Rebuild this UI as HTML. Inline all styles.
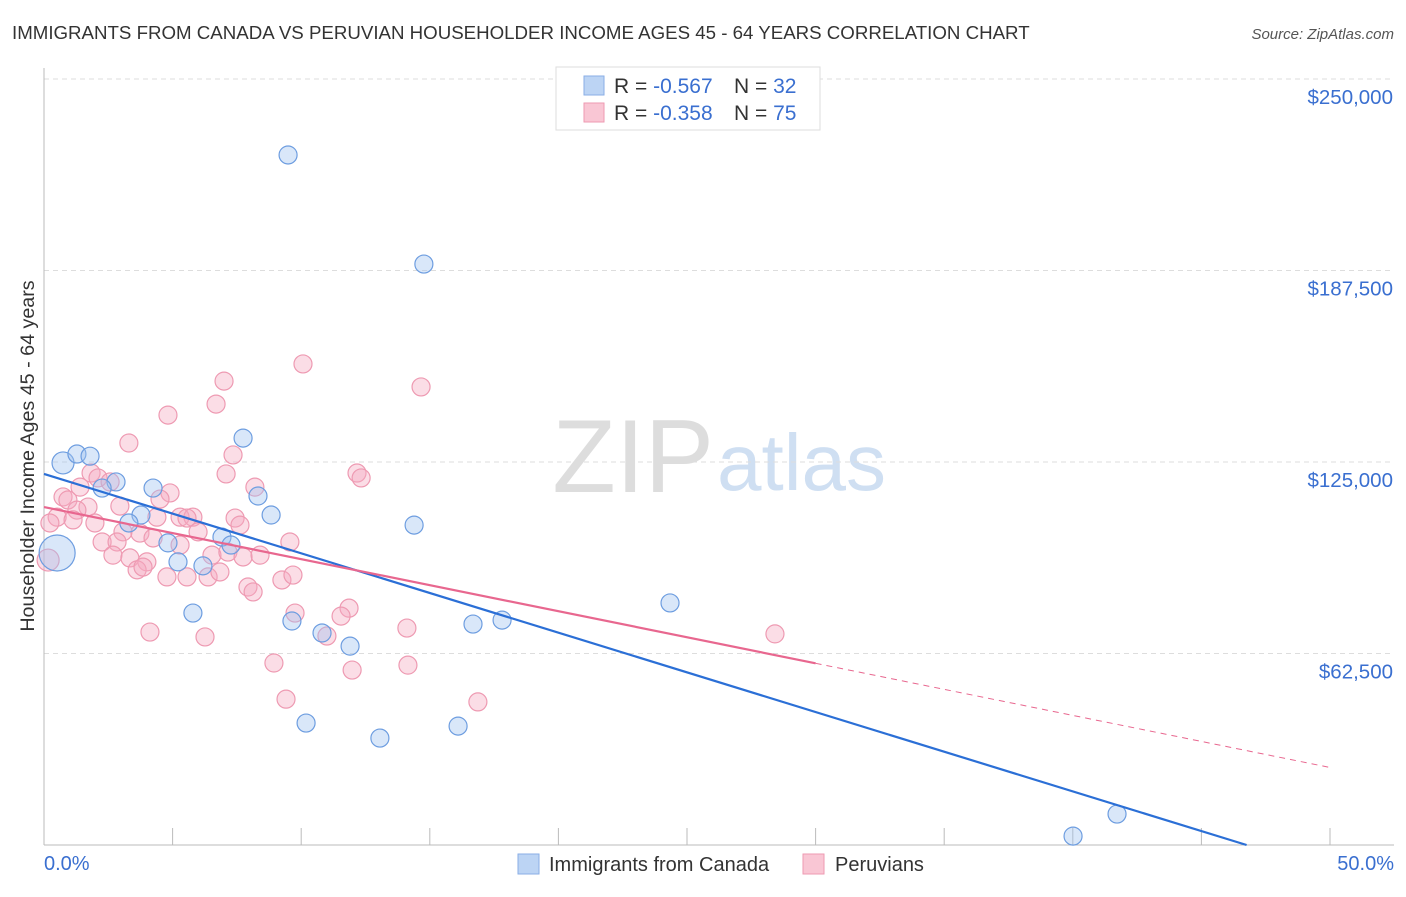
<!DOCTYPE html>
<html><head><meta charset="utf-8"><style>
body{margin:0;background:#fff;font-family:"Liberation Sans",sans-serif;}
svg text{font-family:"Liberation Sans",sans-serif;}
</style></head><body>
<svg id="chart" width="1406" height="892">
<text x="12" y="39" font-size="18.7" fill="#333">IMMIGRANTS FROM CANADA VS PERUVIAN HOUSEHOLDER INCOME AGES 45 - 64 YEARS CORRELATION CHART</text>
<text x="1394" y="39" font-size="15" fill="#555" font-style="italic" text-anchor="end">Source: ZipAtlas.com</text>
<text x="714" y="492" font-size="104" fill="#ddd" text-anchor="end" font-family="Liberation Serif">ZIP</text>
<text x="717" y="490" font-size="80" fill="#cfdff2">atlas</text>
<g id="grid"></g><g id="pts"></g><g id="lines"></g>
<text transform="translate(34,456) rotate(-90)" font-size="19.7" fill="#333" text-anchor="middle">Householder Income Ages 45 - 64 years</text>
<text x="44" y="870" font-size="20" fill="#3a6fd0">0.0%</text>
<text x="1394" y="870" font-size="20" fill="#3a6fd0" text-anchor="end">50.0%</text>
<g>
<rect x="556" y="67" width="264" height="63" fill="#fff" stroke="#ddd"/>
<rect x="584" y="76" width="20" height="19" fill="#bcd4f4" stroke="#8aaee6"/>
<rect x="584" y="103" width="20" height="19" fill="#f9c6d4" stroke="#ee9ab2"/>
<text x="614" y="93" font-size="21" fill="#333">R = <tspan fill="#3a6fd0">-0.567</tspan><tspan x="734">N = </tspan><tspan fill="#3a6fd0">32</tspan></text>
<text x="614" y="120" font-size="21" fill="#333">R = <tspan fill="#3a6fd0">-0.358</tspan><tspan x="734">N = </tspan><tspan fill="#3a6fd0">75</tspan></text>
</g>
<g>
<rect x="518" y="854" width="21" height="20" fill="#bcd4f4" stroke="#8aaee6"/>
<text x="549" y="871" font-size="20" fill="#333">Immigrants from Canada</text>
<rect x="803" y="854" width="21" height="20" fill="#f9c6d4" stroke="#ee9ab2"/>
<text x="835" y="871" font-size="20" fill="#333">Peruvians</text>
</g>
</svg>
<script>
const blueX=[9.49,14.77,0.74,1.28,1.79,7.74,2.80,2.26,4.24,3.77,3.30,8.32,8.83,6.92,7.27,4.82,5.21,6.18,5.79,9.64,10.81,0.51,14.39,11.90,10.19,13.06,16.10,16.68,17.81,24.34,41.72,40.01];
const blueY=[225.2,189.6,124.7,127.6,126.9,132.8,118.5,116.5,116.5,107.7,105.1,113.9,107.7,100.5,97.9,98.6,92.4,91.1,75.7,73.1,69.2,95.3,104.4,64.9,39.8,34.9,38.8,72.1,73.4,79.0,10.1,2.9];
const pinkX=[3.30,4.82,7.35,7.08,1.83,2.10,2.57,1.40,8.20,4.90,4.51,0.74,0.93,2.95,1.71,1.28,5.29,5.79,5.56,7.43,0.51,4.39,0.23,7.62,1.98,1.13,5.99,3.73,3.07,4.24,2.26,2.84,6.53,7.15,7.74,9.56,2.68,5.29,3.34,4.00,3.62,3.85,4.78,5.56,6.38,6.84,7.93,8.13,9.25,9.68,9.76,4.12,6.26,7.00,6.69,10.07,14.66,12.17,12.33,8.40,11.86,11.55,11.00,14.11,11.98,14.15,8.94,9.41,16.87,28.42,0.16];
const pinkY=[131.2,140.3,127.3,121.1,121.4,119.8,118.5,116.8,116.8,114.9,112.9,113.6,112.6,110.6,110.3,109.3,107.0,107.0,106.7,106.7,107.0,107.0,105.1,104.4,105.1,106.1,102.2,101.8,102.2,100.2,98.9,98.9,94.6,95.6,94.0,98.9,94.6,97.9,93.7,92.4,89.8,90.7,87.5,87.5,87.5,89.1,84.2,82.6,86.5,88.1,75.7,69.5,67.9,151.4,143.9,157.0,149.5,121.4,119.8,94.6,77.3,74.7,68.2,70.8,57.1,58.7,59.4,47.6,46.7,68.9,93.0];
const yTicks=[62.5,125,187.5,250];
const yTickLabels=["$62,500","$125,000","$187,500","$250,000"];
const xTicks=[0,5,10,15,20,25,30,35,40,45,50];
const blueLine=[121.1,-2.59];
const pinkLine=[110.3,-1.70];
const pinkSolidEnd=30;
const X=p=>44+p*25.72, Y=v=>845-v*3.064;
const NS="http://www.w3.org/2000/svg";
function mk(t,a,p){const e=document.createElementNS(NS,t);for(const k in a)e.setAttribute(k,a[k]);p.appendChild(e);return e;}
const g=document.getElementById('grid');
yTicks.forEach((v,i)=>{
 const l=mk('line',{x1:44,x2:1394,y1:Y(v),y2:Y(v),stroke:'#ddd','stroke-dasharray':'5,4'},g);
 
 
 const t=mk('text',{x:1393,y:Y(v)+25,'font-size':20.5,fill:'#3a6fd0','text-anchor':'end'},g);
 t.textContent=yTickLabels[i];
 
 
});
const ax=mk('line',{x1:44,x2:44,y1:68,y2:845,stroke:'#bbb'},g);


const bx=mk('line',{x1:44,x2:1394,y1:845,y2:845,stroke:'#bbb'},g);


xTicks.forEach(p=>{
 const t=mk('line',{x1:X(p),x2:X(p),y1:828,y2:845,stroke:'#bbb'},g);
 
 
});
const pts=document.getElementById('pts');
pinkX.forEach((p,i)=>{
 const big=i===pinkX.length-1;
 const c=mk('circle',{cx:X(p),cy:Y(pinkY[i]),r:big?11:9,fill:'rgba(246,170,192,0.4)',stroke:'#ee9ab2','stroke-width':1.2},pts);
 
 
});
blueX.forEach((p,i)=>{
 let r=9; if(i===2)r=11; if(i===21)r=18;
 const c=mk('circle',{cx:X(p),cy:Y(blueY[i]),r:r,fill:'rgba(160,195,240,0.4)',stroke:'#6d9de0','stroke-width':1.2},pts);
 
 
});
const L=document.getElementById('lines');
const bEnd=-blueLine[0]/blueLine[1];
const bl=mk('line',{x1:X(0),y1:Y(blueLine[0]),x2:X(bEnd),y2:Y(0),stroke:'#2b6fd6','stroke-width':2.2},L);


const pl=mk('line',{x1:X(0),y1:Y(pinkLine[0]),x2:X(pinkSolidEnd),y2:Y(pinkLine[0]+pinkLine[1]*pinkSolidEnd),stroke:'#e8678f','stroke-width':2.2},L);


const pd=mk('line',{x1:X(pinkSolidEnd),y1:Y(pinkLine[0]+pinkLine[1]*pinkSolidEnd),x2:X(50),y2:Y(pinkLine[0]+pinkLine[1]*50),stroke:'#e8678f','stroke-width':1,'stroke-dasharray':'6,5'},L);


</script>
</body></html>
